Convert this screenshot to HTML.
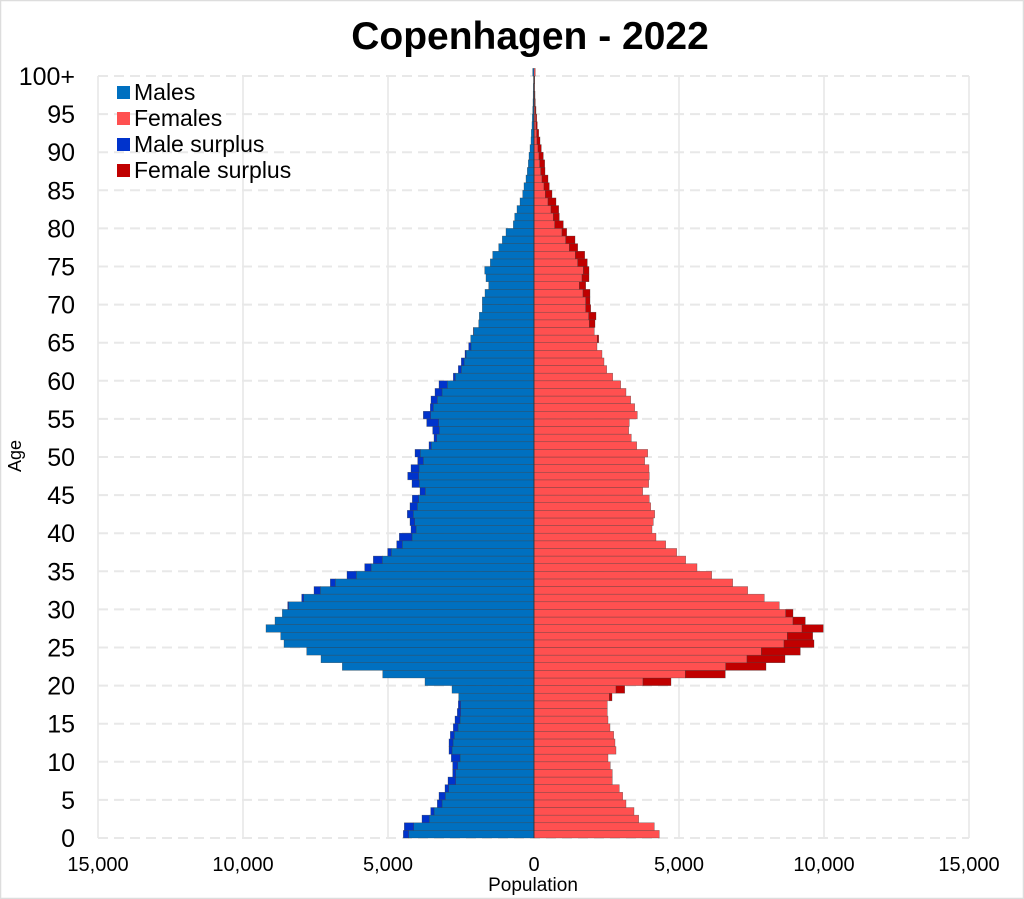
<!DOCTYPE html>
<html><head><meta charset="utf-8"><style>
html,body{margin:0;padding:0;background:#fff}
svg{display:block;font-family:"Liberation Sans",sans-serif}
</style></head><body>
<svg id="s" width="1024" height="899" xmlns="http://www.w3.org/2000/svg">
<rect x="0.5" y="0.5" width="1023" height="898" fill="#fff" stroke="#ddd" stroke-width="1.5"/>
<text x="530" y="49" text-anchor="middle" font-size="39" font-weight="bold">Copenhagen - 2022</text>
<g id="grid"></g>
<g id="bars"></g>
<g font-size="20" text-anchor="middle">
<text x="98" y="871">15,000</text><text x="243" y="871">10,000</text><text x="388" y="871">5,000</text>
<text x="534" y="871">0</text><text x="679" y="871">5,000</text><text x="824" y="871">10,000</text><text x="969" y="871">15,000</text>
</g>
<text x="533" y="891" text-anchor="middle" font-size="19">Population</text>
<text transform="translate(21,456) rotate(-90)" text-anchor="middle" font-size="18">Age</text>
<g id="ylab" font-size="25" text-anchor="end"></g>
<g font-size="23">
<rect x="117" y="86" width="13" height="13" fill="#0070c0"/><text x="134" y="100">Males</text>
<rect x="117" y="112" width="13" height="13" fill="#ff5050"/><text x="134" y="126">Females</text>
<rect x="117" y="138" width="13" height="13" fill="#0033cc"/><text x="134" y="152">Male surplus</text>
<rect x="117" y="164" width="13" height="13" fill="#c00000"/><text x="134" y="178">Female surplus</text>
</g>
</svg>
<script>
var M=[403.3,404.3,422,430.7,437.3,439,445,448,452.7,452.7,451.3,449,449,450.3,453.3,455,457.3,458.3,458.7,452,425,382.7,342.3,321,306.7,284,280.7,266,275,282.3,287.7,301.7,314,330.3,347,364.7,373.3,387.7,396.7,399.3,411,410,407.3,410,412.3,420,412,407.7,411,417.7,415,429,434,432.7,426.7,423.3,430.3,431,435,439,453.3,458.3,461.3,465,468.7,470.7,473.3,478.7,479.3,482.3,482.3,485,488.7,486,484.7,490.3,492.7,498.7,502.3,506,513.3,514.7,517,520,522.7,524,526,527.3,528.3,529,530,531,531.3,532,532.3,532.7,533,533.2,533.3,533.5,532.7];
var F=[659.3,654.3,638.7,634,626,622.7,619.3,612.3,612.3,610.3,608,616,615,613.7,610,608,607.3,607.3,612,624.7,671,725.3,766,785,800.3,814,812.7,823.3,805.3,793,779.3,764.3,747.7,732.7,711.7,697,685.7,676.7,665.7,656,652,653.3,654.7,650.7,649.3,642.7,648.7,649.3,649,644.7,647.7,636.7,631.3,628.7,629.3,637.3,634.7,630.7,626,620.7,612.7,606.7,604,602,597,598.7,594.3,595,596,590.7,590,590,585.7,589,589,587.3,584.7,577.7,575,566.7,563.3,559.3,558.7,556,552,549.3,548,545,544.7,543.3,541.3,540,538.7,537.3,536.7,536,535.3,535,534.7,534.7,535.3];
var ns="http://www.w3.org/2000/svg",C=534,H=7.62;
function el(p,t,a){var e=document.createElementNS(ns,t);for(var k in a)e.setAttribute(k,a[k]);p.appendChild(e);return e;}
var g=document.getElementById('grid'),b=document.getElementById('bars'),yl=document.getElementById('ylab');
[98,243,388,679,824,969].forEach(function(x){el(g,'line',{x1:x,x2:x,y1:76,y2:838,stroke:'#ececec','stroke-width':2});});
for(var n=0;n<=100;n+=5){var y=838-H*n;el(g,'line',{x1:98,x2:969,y1:y,y2:y,stroke:'#e8e8e8','stroke-width':2,'stroke-dasharray':'10,6'});
var t=el(yl,'text',{x:75,y:y+9});t.textContent=n==100?'100+':n;}
for(var i=0;i<=100;i++){var y=838-H*(i+1),m=C-M[i],f=F[i]-C,mn=Math.min(m,f);
var st={stroke:'#3a3a3a','stroke-width':0.5,'stroke-opacity':0.6};
function r(x,w,c){if(w<=0)return;var a={x:x,y:y,width:w,height:H,fill:c};for(var k in st)a[k]=st[k];el(b,'rect',a);}
r(C-mn,mn,'#0070c0');r(C,mn,'#ff5050');
if(m>f)r(C-m,m-f,'#0033cc');if(f>m)r(C+m,f-m,'#c00000');}
el(b,'line',{x1:C,x2:C,y1:76,y2:838,stroke:'#333','stroke-width':0.8});
</script>
</body></html>
